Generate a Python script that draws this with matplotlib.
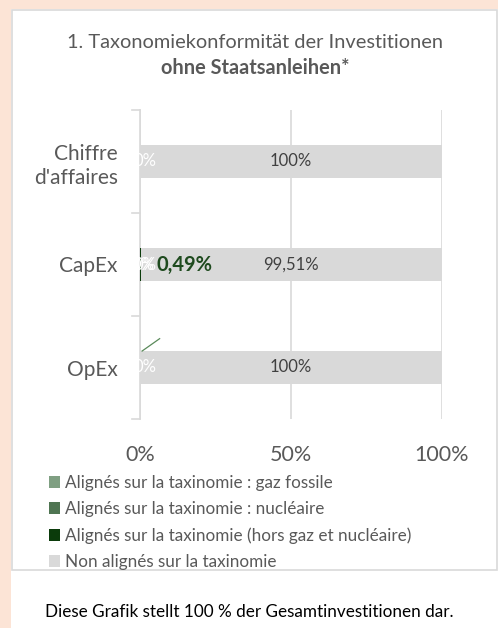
import matplotlib.pyplot as plt
from matplotlib.patches import Rectangle, Patch

# data
categories = ["Chiffre\nd'affaires", "CapEx", "OpEx"]
series_names = ["Alignés sur la taxinomie : gaz fossile",
                "Alignés sur la taxinomie : nucléaire",
                "Alignés sur la taxinomie (hors gaz et nucléaire)",
                "Non alignés sur la taxinomie"]
gaz = [0, 0, 0]
nucleaire = [0, 0, 0]
alignes = [0, 0.49, 0]
non_alignes = [100, 99.51, 100]
xticks = [0, 50, 100]
xticklabels = ["0%", "50%", "100%"]

colors = ["#7f9f82", "#4f7552", "#0b3b0b", "#d9d9d9"]
FONT = "Lato"
W, H = 498, 628

plt.rcParams['font.family'] = [FONT, 'DejaVu Sans']

fig = plt.figure(figsize=(W / 100, H / 100), dpi=100)
fig.patch.set_facecolor("#fce4d6")

# white panel + chart border
fig.patches.append(Rectangle((11 / W, 0), 1, 1 - 9 / H, transform=fig.transFigure,
                             facecolor="white", edgecolor="none", zorder=-2))
fig.patches.append(Rectangle((12 / W, 1 - 570 / H), (497 - 12) / W, (570 - 10) / H,
                             transform=fig.transFigure, facecolor="none",
                             edgecolor="#d9d9d9", lw=1.2, zorder=-1))

ax = fig.add_axes([140 / W, 1 - 419 / H, (442 - 140) / W, (419 - 110) / H])
ax.set_facecolor("none")

ypos = [0, 1, 2]
series = [gaz, nucleaire, alignes, non_alignes]
left = [0, 0, 0]
for vals, col, name in zip(series, colors, series_names):
    ax.barh(ypos, vals, left=left, height=0.33, color=col, label=name, zorder=2)
    left = [l + v for l, v in zip(left, vals)]

ax.set_xlim(0, 100)
ax.set_ylim(2.5, -0.5)
ax.set_xticks(xticks)
ax.set_xticklabels(xticklabels, fontsize=15.5, color="#595959")
ax.tick_params(axis='x', length=0, pad=19)
ax.set_yticks(ypos)
ax.set_yticklabels(categories, fontsize=15, color="#595959", linespacing=1.25)
ax.tick_params(axis='y', length=0, pad=16)
for yb in [-0.5, 0.5, 1.5, 2.5]:
    ax.plot([-0.025, 0], [yb, yb], transform=ax.get_yaxis_transform(),
            color="#d9d9d9", lw=1.2, clip_on=False)

ax.grid(axis='x', color="#d9d9d9", lw=1.2, zorder=0)
for s in ["top", "right", "bottom"]:
    ax.spines[s].set_visible(False)
ax.spines["left"].set_color("#d9d9d9")
ax.spines["left"].set_linewidth(1.2)
ax.spines["left"].set_zorder(1)

# data labels
for i in ypos:
    ax.text(50, i, f"{non_alignes[i]:g}%".replace(".", ","), ha="center", va="center",
            fontsize=12, color="#404040", zorder=3)
    ax.text(1.6, i, "0%", ha="center", va="center", fontsize=12, color="white", zorder=3)
ax.text(1.0, 1, "0%", ha="center", va="center", fontsize=12, color="white", zorder=3)
ax.text(14.7, 1, f"{alignes[1]:.2f}%".replace(".", ","), ha="center", va="center",
        fontsize=14.5, fontweight="bold", color="#1e4a1e", zorder=3)
# leader line for OpEx
ax.plot([0.7, 6.5], [1.84, 1.72], color="#5a8a5a", lw=0.9, zorder=3)

# title
fig.text(255 / W, 1 - 43 / H, "1. Taxonomiekonformität der Investitionen",
         ha="center", va="center", fontsize=14.4, color="#595959")
fig.text(255 / W, 1 - 68 / H, "ohne Staatsanleihen*",
         ha="center", va="center", fontsize=14.4, fontweight="bold", color="#595959")

# legend
handles = [Patch(facecolor=c, edgecolor="none") for c in colors]
leg = fig.legend(handles, series_names, loc="upper left",
                 bbox_to_anchor=(42 / W, 1 - 468 / H), frameon=False,
                 fontsize=12.3, handlelength=0.65, handleheight=0.65,
                 handletextpad=0.3, labelspacing=0.6, borderaxespad=0)
for t in leg.get_texts():
    t.set_color("#595959")

fig.text(45 / W, 1 - 612 / H, "Diese Grafik stellt 100 % der Gesamtinvestitionen dar.",
         ha="left", va="center", fontsize=12.3, color="black")

fig.savefig("out.png", dpi=100, facecolor=fig.get_facecolor())
